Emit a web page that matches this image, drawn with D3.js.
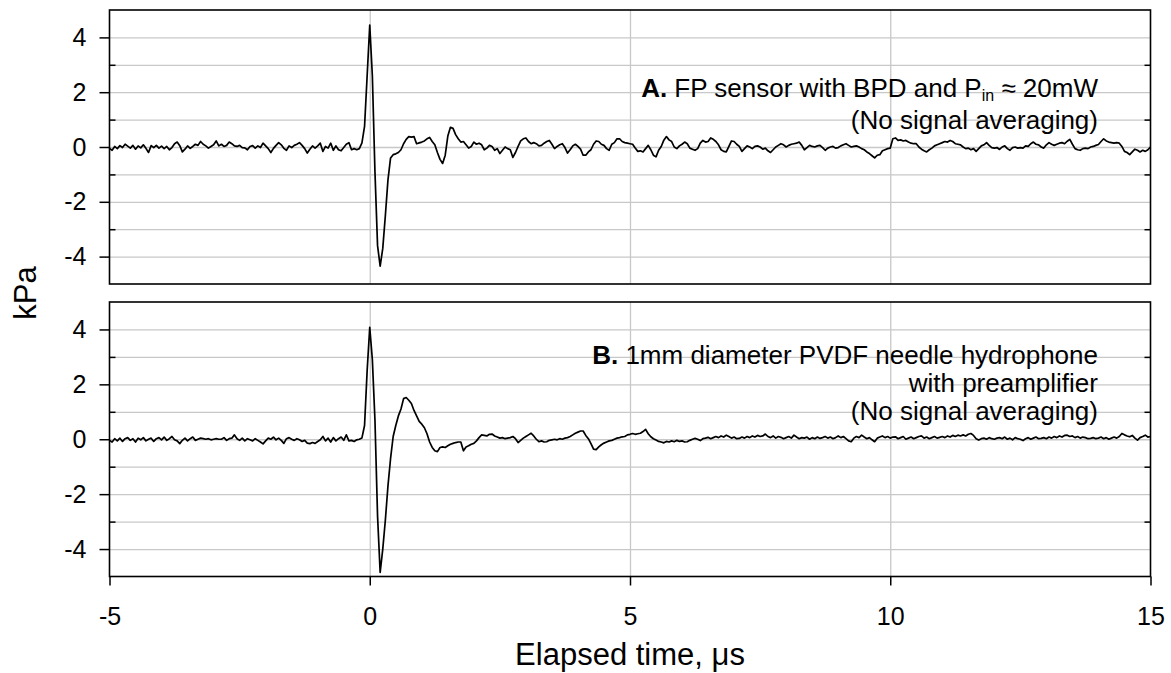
<!DOCTYPE html>
<html>
<head>
<meta charset="utf-8">
<script src="https://cdn.jsdelivr.net/npm/d3@7"></script>
<style>
  body { margin: 0; background: #fff; }
  svg { display: block; font-family: "Liberation Sans", Arial, sans-serif; }
</style>
</head>
<body>
<script>
// sampling grid of the traces (µs)
const tStart = -5;
const tStep = 0.05;

// A. FP sensor, kPa, one value per 0.05 µs from -5 to 15
const kpaA = [
  -0.05,-0.12,0.02,-0.06,0.05,-0.02,0.10,0.03,-0.04,0.06,-0.08,0.04,-0.03,0.08,-0.05,-0.20,0.05,-0.02,0.06,-0.04,
  0.03,-0.06,0.02,-0.10,-0.02,0.12,0.18,0.05,-0.18,-0.08,0.04,-0.05,0.02,0.10,0.06,0.20,0.10,0.04,-0.04,0.02,
  0.08,0.22,0.04,0.10,0.02,0.06,0.18,0.12,0.04,0.02,0.06,-0.02,-0.03,-0.10,0.02,0.05,-0.04,0.04,-0.02,0.14,
  0.04,-0.06,-0.20,-0.05,0.06,0.16,0.08,-0.05,-0.12,0.04,-0.02,0.06,0.10,0.16,0.06,-0.06,-0.22,-0.08,0.04,-0.04,
  0.04,0.14,-0.16,0.02,-0.04,0.14,-0.12,0.04,-0.10,-0.14,-0.02,0.10,0.16,-0.10,-0.06,-0.10,-0.06,0.15,0.75,2.60,
  4.45,2.60,-0.90,-3.60,-4.35,-3.70,-2.50,-1.20,-0.40,-0.28,-0.25,-0.20,-0.10,0.12,0.28,0.38,0.36,0.38,0.12,0.15,
  0.18,0.22,0.30,0.35,0.20,0.08,-0.20,-0.45,-0.60,-0.30,0.40,0.72,0.68,0.45,0.30,0.18,0.20,0.08,-0.04,0.02,
  0.18,0.10,0.14,0.08,-0.10,-0.04,0.06,0.02,-0.12,-0.06,-0.24,-0.12,0.00,-0.06,-0.10,-0.38,-0.20,0.02,0.22,0.30,
  0.33,0.20,0.12,0.16,0.12,0.04,0.06,0.14,0.20,0.24,0.10,-0.06,0.02,0.08,0.12,-0.02,-0.22,-0.10,0.04,0.10,
  0.02,-0.08,-0.30,-0.30,-0.18,-0.10,0.10,0.22,0.20,0.10,0.06,-0.06,-0.12,0.10,0.16,0.30,0.30,0.20,0.16,0.14,
  0.12,0.10,-0.04,-0.16,-0.14,-0.18,-0.06,0.06,-0.10,-0.30,-0.36,-0.12,0.02,0.25,0.38,0.26,0.20,0.00,-0.06,0.04,
  0.10,0.18,0.12,-0.04,-0.08,-0.12,-0.06,0.14,0.24,0.18,0.20,0.33,0.28,0.20,0.08,-0.10,-0.16,-0.18,0.02,0.22,
  0.20,0.10,0.02,-0.16,-0.06,0.04,0.00,-0.06,0.02,0.04,0.00,-0.08,-0.04,-0.14,-0.20,-0.10,0.00,0.06,0.12,0.08,
  0.00,0.06,0.10,0.12,0.14,0.18,0.06,-0.10,-0.02,0.06,0.02,0.00,0.04,0.06,-0.02,-0.12,-0.04,0.00,0.02,-0.04,
  -0.02,0.04,0.08,0.12,0.06,0.00,0.02,0.04,0.00,-0.06,-0.10,-0.18,-0.24,-0.32,-0.40,-0.30,-0.28,-0.14,-0.10,-0.06,
  -0.04,0.30,0.33,0.24,0.26,0.22,0.24,0.18,0.14,0.12,0.12,0.00,-0.08,-0.14,-0.18,-0.10,-0.04,0.04,0.08,0.12,
  0.16,0.20,0.18,0.24,0.20,0.12,0.10,0.08,0.00,-0.06,-0.04,-0.10,-0.06,-0.16,-0.06,0.04,0.08,0.16,0.06,-0.02,
  -0.04,-0.02,-0.09,0.00,0.04,-0.06,-0.12,-0.02,0.00,-0.04,-0.02,-0.04,0.04,0.02,0.12,0.18,0.10,0.08,0.00,-0.04,
  0.08,0.16,0.10,0.06,0.10,0.14,0.16,0.12,0.21,0.28,0.10,-0.06,-0.10,-0.12,-0.06,-0.04,-0.06,0.00,0.02,0.06,
  0.09,0.20,0.30,0.22,0.18,0.16,0.14,0.16,0.14,0.02,-0.16,-0.20,-0.28,-0.18,-0.08,-0.12,-0.18,-0.12,-0.16,-0.10,
  0.00
];

// B. PVDF needle hydrophone, kPa, same grid
const kpaB = [
  -0.04,-0.10,0.02,-0.06,0.04,-0.08,0.02,0.06,-0.04,0.02,-0.10,0.04,-0.02,0.06,-0.06,0.00,0.04,-0.08,0.02,0.06,
  -0.02,0.08,-0.04,0.02,0.10,-0.02,-0.06,-0.16,-0.04,0.04,-0.06,0.02,0.08,-0.04,0.00,0.04,0.02,0.00,0.02,-0.02,
  0.00,0.02,0.00,0.00,0.06,-0.04,0.02,0.04,0.16,0.02,-0.04,0.04,-0.06,0.02,-0.02,-0.06,0.02,-0.04,-0.10,-0.17,
  -0.06,0.04,0.00,0.08,-0.02,0.04,-0.04,-0.15,0.02,0.06,0.00,-0.04,0.02,-0.02,-0.08,-0.04,-0.14,-0.16,-0.12,-0.15,
  -0.08,-0.02,0.10,-0.06,0.04,-0.10,0.06,-0.06,0.02,0.08,-0.04,0.16,-0.06,-0.04,-0.08,-0.02,0.00,0.05,0.50,2.50,
  4.08,2.90,0.70,-2.80,-4.85,-4.00,-2.94,-1.70,-0.70,0.10,0.50,0.85,1.10,1.48,1.52,1.42,1.30,1.05,0.85,0.65,
  0.55,0.42,0.20,-0.10,-0.30,-0.42,-0.45,-0.30,-0.28,-0.30,-0.24,-0.18,-0.15,-0.12,-0.10,-0.10,-0.42,-0.28,-0.24,-0.18,
  -0.15,-0.06,0.06,0.16,0.14,0.12,0.18,0.19,0.12,0.08,0.04,0.06,0.02,0.04,0.06,0.10,0.02,-0.12,-0.04,0.04,
  0.10,0.16,0.22,0.12,0.00,-0.09,-0.06,-0.10,-0.09,-0.04,-0.02,0.00,-0.02,0.02,0.00,0.04,0.06,0.10,0.16,0.22,
  0.26,0.30,0.30,0.14,0.02,-0.16,-0.36,-0.38,-0.28,-0.20,-0.14,-0.10,-0.06,-0.04,0.00,0.04,0.06,0.09,0.10,0.16,
  0.18,0.21,0.18,0.20,0.22,0.28,0.36,0.20,0.09,0.02,-0.03,-0.08,-0.10,-0.13,-0.08,-0.10,-0.06,-0.09,-0.04,-0.08,
  -0.06,-0.10,-0.09,-0.04,0.00,0.03,0.00,-0.05,0.02,0.04,0.07,0.02,0.06,0.10,0.06,0.12,0.08,0.15,0.10,0.04,
  0.08,0.02,0.03,0.08,0.04,0.10,0.06,0.12,0.08,0.14,0.10,0.12,0.19,0.10,0.06,0.12,0.04,0.10,0.07,0.02,
  0.06,0.10,0.04,0.15,0.08,0.02,0.06,0.04,0.08,0.00,0.06,0.02,0.08,0.03,0.06,0.10,0.04,0.08,0.02,0.06,
  0.12,0.06,0.10,0.02,-0.06,-0.09,0.04,0.10,0.06,0.15,0.08,0.02,0.06,-0.02,-0.09,0.04,0.08,0.12,0.06,0.10,
  0.04,0.08,0.09,0.02,0.06,0.10,0.00,0.04,0.08,0.02,0.06,0.10,0.12,0.04,0.08,0.02,0.06,0.10,0.04,0.07,
  0.10,0.06,0.12,0.08,0.14,0.10,0.15,0.12,0.16,0.12,0.18,0.21,0.14,0.02,-0.03,0.02,0.04,0.00,0.06,0.02,
  0.00,0.04,0.06,0.02,0.08,0.00,0.04,-0.02,0.06,0.02,0.00,-0.05,0.02,0.06,0.00,0.04,0.08,0.02,0.03,0.06,
  0.02,0.08,0.04,0.10,0.06,0.12,0.08,0.14,0.15,0.10,0.12,0.06,0.10,0.04,0.08,0.06,0.02,0.03,0.06,0.02,
  0.04,0.08,0.02,0.06,0.00,0.04,0.08,0.04,0.10,0.21,0.16,0.12,0.09,0.14,0.04,-0.03,0.06,0.10,0.15,0.08,
  0.10
];

const xTicks = [-5, 0, 5, 10, 15];
const xGrid = [0, 5, 10];
const yMajor = [-4, -2, 0, 2, 4];
const yMinor = [-3, -1, 1, 3];
const yGrid = [-4, -3, -2, -1, 0, 1, 2, 3, 4];

const width = 1171, height = 673;
const left = 109.5, right = 1150.5;
const tickFont = 25, noteFont = 26, titleFont = 31;
const panels = [
  { data: kpaA, top: 10, bottom: 284 },
  { data: kpaB, top: 302, bottom: 576.5 }
];

const svg = d3.select("body").append("svg").attr("width", width).attr("height", height);

const x = d3.scaleLinear().domain([-5, 15]).range([left, right]);
const minus = d => d < 0 ? "-" + Math.abs(d) : String(d);

panels.forEach((p, k) => {
  const y = d3.scaleLinear().domain([-5, 5]).range([p.bottom, p.top]);
  const g = svg.append("g");

  // horizontal grid
  g.append("g").attr("transform", `translate(${left},0)`)
    .call(d3.axisLeft(y).tickValues(yGrid).tickSize(-(right - left)).tickFormat(""))
    .call(a => a.select(".domain").remove())
    .selectAll("line").attr("stroke", "#c8c8c8").attr("stroke-width", 1.3);

  // vertical grid
  g.append("g").attr("transform", `translate(0,${p.bottom})`)
    .call(d3.axisBottom(x).tickValues(xGrid).tickSize(-(p.bottom - p.top)).tickFormat(""))
    .call(a => a.select(".domain").remove())
    .selectAll("line").attr("stroke", "#c8c8c8").attr("stroke-width", 1.3);

  // trace
  const pts = p.data.map((v, i) => [tStart + i * tStep, v]);
  g.append("path").datum(pts)
    .attr("fill", "none").attr("stroke", "#000").attr("stroke-width", 1.7)
    .attr("stroke-linejoin", "round")
    .attr("d", d3.line().x(d => x(d[0])).y(d => y(d[1])));

  // frame
  g.append("rect").attr("x", left).attr("y", p.top)
    .attr("width", right - left).attr("height", p.bottom - p.top)
    .attr("fill", "none").attr("stroke", "#000").attr("stroke-width", 1.6);

  // left axis, major ticks out
  g.append("g").attr("transform", `translate(${left},0)`)
    .call(d3.axisLeft(y).tickValues(yMajor).tickSize(10).tickPadding(13).tickFormat(minus))
    .call(a => a.select(".domain").remove())
    .call(a => a.selectAll("line").attr("stroke-width", 1.5))
    .call(a => a.selectAll("text").attr("font-size", tickFont).attr("fill", "#000")
      .attr("font-family", "Liberation Sans, Arial, sans-serif"));

  // left minor ticks in
  g.append("g").attr("transform", `translate(${left},0)`)
    .call(d3.axisLeft(y).tickValues(yMinor).tickSize(-6).tickFormat(""))
    .call(a => a.select(".domain").remove())
    .selectAll("line").attr("stroke-width", 1.5);

  // right minor ticks in
  g.append("g").attr("transform", `translate(${right},0)`)
    .call(d3.axisRight(y).tickValues(yMinor).tickSize(-6).tickFormat(""))
    .call(a => a.select(".domain").remove())
    .selectAll("line").attr("stroke-width", 1.5);

  if (k === 1) {
    g.append("g").attr("transform", `translate(0,${p.bottom})`)
      .call(d3.axisBottom(x).tickValues(xTicks).tickSize(9).tickPadding(22).tickFormat(minus))
      .call(a => a.select(".domain").remove())
      .call(a => a.selectAll("line").attr("stroke-width", 1.5))
      .call(a => a.selectAll("text").attr("font-size", tickFont).attr("fill", "#000")
        .attr("font-family", "Liberation Sans, Arial, sans-serif"));
  }
});

// annotations
const ta = svg.append("text").attr("x", 1098).attr("y", 97)
  .attr("text-anchor", "end").attr("font-size", noteFont);
ta.append("tspan").attr("font-weight", "bold").text("A.");
ta.append("tspan").text(" FP sensor with BPD and P");
ta.append("tspan").attr("font-size", 16).attr("dy", 4).text("in");
ta.append("tspan").attr("dy", -4).text(" \u2248 20mW");
svg.append("text").attr("x", 1098).attr("y", 129).attr("text-anchor", "end")
  .attr("font-size", noteFont).text("(No signal averaging)");

const tb = svg.append("text").attr("x", 1098).attr("y", 364)
  .attr("text-anchor", "end").attr("font-size", noteFont);
tb.append("tspan").attr("font-weight", "bold").text("B.");
tb.append("tspan").text(" 1mm diameter PVDF needle hydrophone");
svg.append("text").attr("x", 1098).attr("y", 392).attr("text-anchor", "end")
  .attr("font-size", noteFont).text("with preamplifier");
svg.append("text").attr("x", 1098).attr("y", 420).attr("text-anchor", "end")
  .attr("font-size", noteFont).text("(No signal averaging)");

// axis titles
svg.append("text").attr("transform", "translate(36,293) rotate(-90)")
  .attr("text-anchor", "middle").attr("font-size", titleFont).text("kPa");
svg.append("text").attr("x", (left + right) / 2).attr("y", 665)
  .attr("text-anchor", "middle").attr("font-size", titleFont).text("Elapsed time, \u03bcs");
</script>
</body>
</html>
